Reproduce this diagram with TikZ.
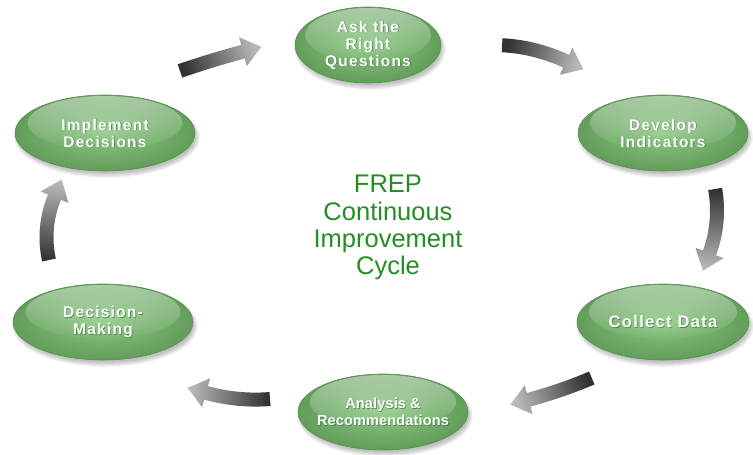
\documentclass[tikz,border=0pt]{standalone}
\usepackage{fontspec}
\setmainfont{Liberation Sans}
\newfontfamily\labelfont[LetterSpace=8]{Liberation Sans}
\usetikzlibrary{calc,fadings}

\definecolor{frepgreen}{RGB}{36,142,36}
\definecolor{bubbleinner}{RGB}{140,200,130}
\definecolor{bubbleouter}{RGB}{98,158,90}
\definecolor{bubbleedge}{RGB}{86,142,80}
\definecolor{labelshadow}{RGB}{40,95,40}
\definecolor{arrowdark}{RGB}{50,50,50}
\definecolor{arrowlight}{RGB}{185,185,185}

% soft white sheen on the upper half of each bubble
\tikzfading[name=sheen, top color=transparent!10, bottom color=transparent!100]

\tikzset{
  bubbletext/.style={text=white, align=center, inner sep=0pt,
    font=\labelfont\bfseries\fontsize{15.5}{17}\selectfont#1},
  bubbletext/.default={},
  titletext/.style={text=frepgreen, anchor=base, inner sep=0pt,
    font=\fontsize{25.5}{27.5}\selectfont},
  arrowbody/.style={bottom color=arrowdark, top color=arrowlight},
}

% #1 name, #2 x, #3 y, #4 x radius, #5 extra font settings, #6 label
\newcommand{\bubble}[6]{%
  \foreach \k in {1,...,6}{%
    \fill[black, opacity=0.045] (#2+2,#3-4) ellipse[x radius={#4-3+\k}, y radius={35+\k}];}
  \shade[inner color=bubbleinner, outer color=bubbleouter]
    (#2,#3) ellipse[x radius=#4, y radius=38];
  \fill[white, path fading=sheen, fill opacity=0.5]
    (#2,#3+10) ellipse[x radius={0.86*#4}, y radius=27];
  \draw[bubbleedge, line width=0.6pt] (#2,#3) ellipse[x radius=#4, y radius=38];
  \node[bubbletext={#5}, text=labelshadow, opacity=0.55] (#1-shade) at (#2+0.8,#3-0.8) {#6};
  \node[bubbletext={#5}] (#1) at (#2,#3) {#6};
}

% curved block arrow running clockwise along a circle
% #1,#2 circle centre, #3 radius, #4 start angle, #5 end angle, #6 shading angle
\newcommand{\cyclearrow}[6]{%
  \begin{scope}[shift={(#1,#2)}]
    \shade[arrowbody, shading angle=#6]
      (#4:#3+7) arc[start angle=#4, end angle=#5, radius=#3+7]
      -- (#5:#3+15) -- ($(#5:#3)+(#5-90:19)$) -- (#5:#3-15)
      -- (#5:#3-7) arc[start angle=#5, end angle=#4, radius=#3-7] -- cycle;
  \end{scope}
}

\begin{document}
\begin{tikzpicture}[x=1pt, y=1pt]
  \useasboundingbox (0,0) rectangle (753,455);
  \fill[white] (0,0) rectangle (753,455);

  % the six stages
  \bubble{ask}{368}{410}{73}{}{Ask the\\Right\\Questions}
  \bubble{develop}{663}{322}{85}{}{Develop\\Indicators}
  \bubble{collect}{663}{133}{86}{\fontsize{16.5}{18}\selectfont}{Collect Data}
  \bubble{analysis}{383}{43}{85}{\addfontfeature{LetterSpace=1}\fontsize{14.5}{16.5}\selectfont}{Analysis \&\\Recommendations}
  \bubble{decision}{103}{133}{90}{}{Decision-\\Making}
  \bubble{implement}{105}{322}{90}{}{Implement\\Decisions}

  % arrows between the stages
  \cyclearrow{487}{-507.6}{943}{109}{105}{-73}
  \cyclearrow{493}{237}{173}{87}{65}{-104}
  \cyclearrow{593}{244.5}{124}{10}{-20}{-185}
  \cyclearrow{405}{517}{478}{-67}{-75}{109}
  \cyclearrow{255.5}{240.4}{185}{-85.5}{-105.5}{84.5}
  \cyclearrow{151.5}{217.7}{105}{192.5}{157.5}{-5}

  % title in the middle of the cycle
  \node[titletext] (t1) at (388,262) {FREP};
  \node[titletext] (t2) at (388,234) {Continuous};
  \node[titletext] (t3) at (388,207) {Improvement};
  \node[titletext] (t4) at (388,180) {Cycle};
\end{tikzpicture}
\end{document}
